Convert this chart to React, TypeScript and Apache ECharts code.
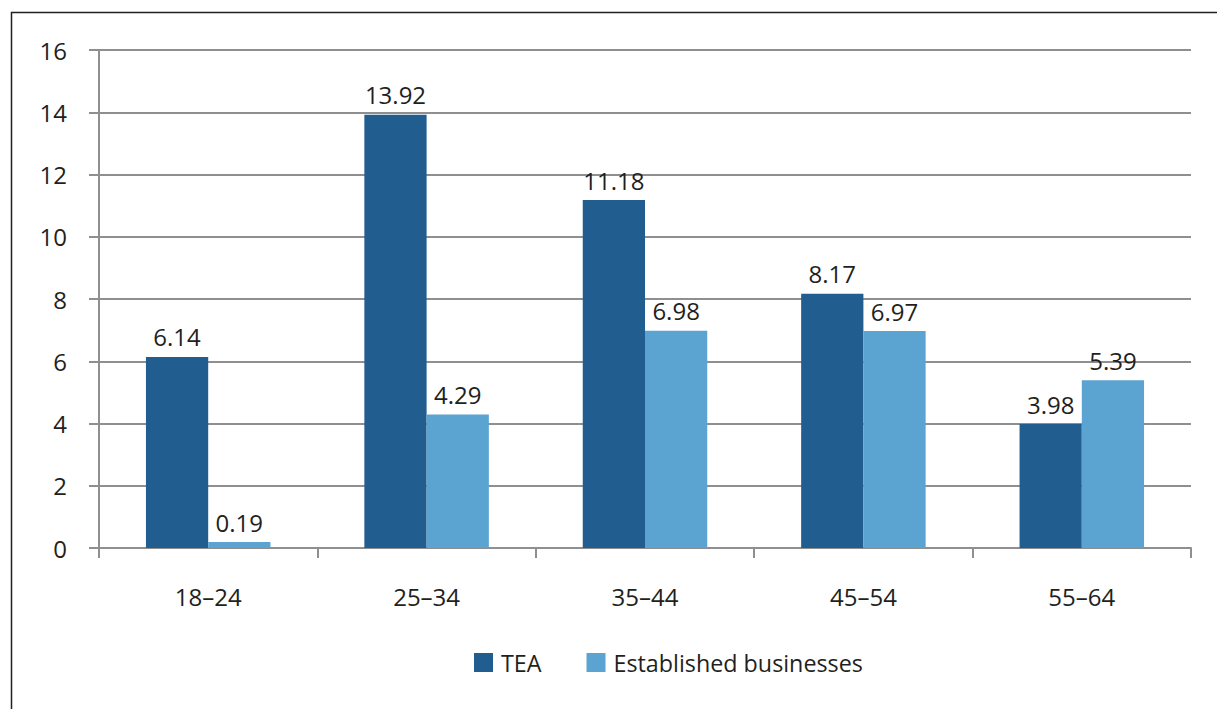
import React, { useEffect, useRef } from "react";
import * as echarts from "echarts";

const categories = ["18–24", "25–34", "35–44", "45–54", "55–64"];
const teaValues = [6.14, 13.92, 11.18, 8.17, 3.98];
const establishedValues = [0.19, 4.29, 6.98, 6.97, 5.39];
const seriesNames = ["TEA", "Established businesses"];

const FONT = "'Open Sans', 'Noto Sans', sans-serif";
const TEXT = "#231f20";
const GRID = "#8f8f91";

export default function App() {
  const ref = useRef<HTMLDivElement>(null);
  useEffect(() => {
    if (!ref.current) return;
    const chart = echarts.init(ref.current, null, { renderer: "svg" });
    const label = {
      show: true,
      position: "top",
      distance: 8,
      color: TEXT,
      fontFamily: FONT,
      fontSize: 24,
      formatter: (p: any) => Number(p.value).toFixed(2),
    };
    chart.setOption({
      animation: false,
      backgroundColor: "#ffffff",
      grid: { left: 99, right: 26, top: 50, bottom: 161, containLabel: false },
      legend: {
        left: 474,
        top: 651,
        padding: 0,
        itemWidth: 19,
        itemHeight: 19,
        itemGap: 45,
        icon: "rect",
        data: seriesNames,
        textStyle: { color: TEXT, fontFamily: FONT, fontSize: 23.3, padding: [0, 0, 0, 3] },
      },
      xAxis: {
        type: "category",
        data: categories,
        axisLine: { show: true, lineStyle: { color: GRID, width: 2 } },
        axisTick: { show: true, length: 10, alignWithLabel: false, lineStyle: { color: GRID, width: 2 } },
        axisLabel: { color: TEXT, fontFamily: FONT, fontSize: 24, margin: 36 },
      },
      yAxis: {
        type: "value",
        min: 0,
        max: 16,
        interval: 2,
        axisLine: { show: true, lineStyle: { color: GRID, width: 2 } },
        axisTick: { show: true, length: 10, lineStyle: { color: GRID, width: 2 } },
        axisLabel: { color: TEXT, fontFamily: FONT, fontSize: 24, margin: 32 },
        splitLine: { show: true, lineStyle: { color: GRID, width: 2 } },
      },
      series: [
        {
          name: seriesNames[0],
          type: "bar",
          data: teaValues,
          itemStyle: { color: "#215d8f" },
          barGap: "0%",
          barCategoryGap: "43%",
          label,
        },
        {
          name: seriesNames[1],
          type: "bar",
          data: establishedValues,
          itemStyle: { color: "#5ba3d1" },
          barGap: "0%",
          barCategoryGap: "43%",
          label,
        },
      ],
      graphic: [
        {
          type: "polyline",
          silent: true,
          shape: { points: [[11.5, 720], [11.5, 12.5], [1230, 12.5]] },
          style: { stroke: "#231f20", lineWidth: 1.5, fill: "none" },
        },
      ],
    });
    return () => chart.dispose();
  }, []);
  return (
    <div
      ref={ref}
      style={{ position: "absolute", left: 0, top: 0, width: 1217, height: 709 }}
    />
  );
}
